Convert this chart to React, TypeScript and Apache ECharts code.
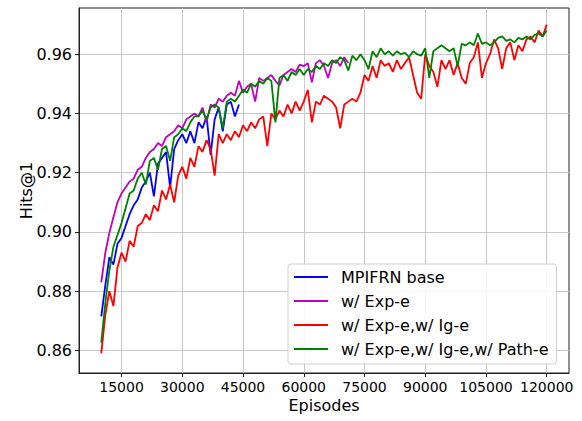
import React, { useEffect, useRef } from 'react';
import * as echarts from 'echarts';

const episodes = [
  10000, 11000, 12000, 13000, 14000, 15000, 16000, 17000, 18000, 19000,
  20000, 21000, 22000, 23000, 24000, 25000, 26000, 27000, 28000, 29000,
  30000, 31000, 32000, 33000, 34000, 35000, 36000, 37000, 38000, 39000,
  40000, 41000, 42000, 43000, 44000, 45000, 46000, 47000, 48000, 49000,
  50000, 51000, 52000, 53000, 54000, 55000, 56000, 57000, 58000, 59000,
  60000, 61000, 62000, 63000, 64000, 65000, 66000, 67000, 68000, 69000,
  70000, 71000, 72000, 73000, 74000, 75000, 76000, 77000, 78000, 79000,
  80000, 81000, 82000, 83000, 84000, 85000, 86000, 87000, 88000, 89000,
  90000, 91000, 92000, 93000, 94000, 95000, 96000, 97000, 98000, 99000,
  100000, 101000, 102000, 103000, 104000, 105000, 106000, 107000, 108000, 109000,
  110000, 111000, 112000, 113000, 114000, 115000, 116000, 117000, 118000, 119000,
  120000,
];

// MPIFRN base (10000 .. 44000)
const baseHits = [
  0.8715, 0.882, 0.8915, 0.889, 0.896, 0.898, 0.902, 0.906, 0.909, 0.911,
  0.915, 0.917, 0.92, 0.912, 0.923, 0.925, 0.927, 0.915, 0.928, 0.931,
  0.933, 0.93, 0.934, 0.93, 0.937, 0.935, 0.939, 0.926, 0.938, 0.942,
  0.934, 0.943, 0.944, 0.939, 0.943,
];

// w/ Exp-e (10000 .. 71000)
const expHits = [
  0.883, 0.893, 0.8997, 0.905, 0.91, 0.913, 0.915, 0.917, 0.918, 0.921,
  0.922, 0.925, 0.927, 0.928, 0.93, 0.929, 0.932, 0.933, 0.934, 0.936,
  0.935, 0.938, 0.939, 0.94, 0.939, 0.942, 0.937, 0.943, 0.942, 0.945,
  0.944, 0.946, 0.947, 0.946, 0.951, 0.947, 0.949, 0.95, 0.944, 0.952,
  0.951, 0.952, 0.953, 0.951, 0.9495, 0.953, 0.954, 0.955, 0.954, 0.9565,
  0.956, 0.957, 0.9505, 0.957, 0.958, 0.956, 0.952, 0.957, 0.958, 0.956,
  0.959, 0.957,
];

// w/ Exp-e,w/ Ig-e (10000 .. 120000)
const igHits = [
  0.859, 0.872, 0.88, 0.875, 0.888, 0.893, 0.89, 0.897, 0.895, 0.902,
  0.903, 0.906, 0.904, 0.909, 0.907, 0.914, 0.911, 0.916, 0.91, 0.919,
  0.922, 0.918, 0.925, 0.922, 0.929, 0.927, 0.931, 0.928, 0.919, 0.933,
  0.93, 0.933, 0.931, 0.934, 0.932, 0.936, 0.934, 0.937, 0.935, 0.938,
  0.939, 0.929, 0.94, 0.938, 0.941, 0.939, 0.943, 0.94, 0.944, 0.941,
  0.944, 0.948, 0.937, 0.944, 0.943, 0.946, 0.945, 0.944, 0.942, 0.935,
  0.943, 0.944, 0.945, 0.944, 0.947, 0.953, 0.951, 0.956, 0.952, 0.958,
  0.956, 0.957, 0.954, 0.958, 0.955, 0.957, 0.959, 0.953, 0.947, 0.945,
  0.96, 0.956, 0.954, 0.949, 0.958, 0.955, 0.958, 0.953, 0.957, 0.952,
  0.95, 0.957, 0.959, 0.964, 0.952, 0.957, 0.96, 0.965, 0.962, 0.955,
  0.962, 0.964, 0.958, 0.963, 0.961, 0.965, 0.966, 0.964, 0.968, 0.966,
  0.97,
];

// w/ Exp-e,w/ Ig-e,w/ Path-e (10000 .. 120000)
const pathHits = [
  0.8627, 0.876, 0.887, 0.895, 0.899, 0.903, 0.908, 0.913, 0.914, 0.918,
  0.92, 0.916, 0.924, 0.925, 0.921, 0.928, 0.929, 0.924, 0.932, 0.933,
  0.935, 0.934, 0.937, 0.939, 0.939, 0.941, 0.938, 0.942, 0.943, 0.942,
  0.935, 0.944, 0.945, 0.944, 0.946, 0.948, 0.947, 0.95, 0.949, 0.951,
  0.95, 0.952, 0.951, 0.937, 0.952, 0.953, 0.951, 0.954, 0.953, 0.955,
  0.953, 0.955, 0.954, 0.956, 0.955, 0.957, 0.956, 0.958, 0.957, 0.959,
  0.958, 0.9545, 0.9595, 0.958, 0.96, 0.958, 0.955, 0.961, 0.959, 0.962,
  0.96, 0.961, 0.9595, 0.961, 0.96, 0.9605, 0.959, 0.961, 0.96, 0.9595,
  0.962, 0.952, 0.961, 0.962, 0.963, 0.962, 0.961, 0.962, 0.956, 0.9635,
  0.963, 0.964, 0.963, 0.967, 0.9635, 0.964, 0.963, 0.964, 0.9655, 0.966,
  0.9645, 0.965, 0.964, 0.9655, 0.965, 0.966, 0.965, 0.9665, 0.967, 0.966,
  0.968,
];

const seriesNames = [
  'MPIFRN base',
  'w/ Exp-e',
  'w/ Exp-e,w/ Ig-e',
  'w/ Exp-e,w/ Ig-e,w/ Path-e',
];
const seriesColors = ['#0000ff', '#bf00bf', '#ff0000', '#008000'];
const seriesValues = [baseHits, expHits, igHits, pathHits];

const xTicks = [15000, 30000, 45000, 60000, 75000, 90000, 105000, 120000];
const yTicks = [0.86, 0.88, 0.9, 0.92, 0.94, 0.96];

const FONT = 'DejaVu Sans';

export default function App() {
  const ref = useRef<HTMLDivElement>(null);

  useEffect(() => {
    if (!ref.current) return;
    const chart = echarts.init(ref.current, undefined, { renderer: 'svg' });

    const series = seriesValues.map((vals, si) => ({
      name: seriesNames[si],
      type: 'line',
      data: vals.map((v, i) => [episodes[i], v]),
      showSymbol: false,
      symbol: 'none',
      lineStyle: { color: seriesColors[si], width: 1.8 },
      itemStyle: { color: seriesColors[si] },
      z: 2 + si,
    }));

    chart.setOption({
      animation: false,
      backgroundColor: '#ffffff',
      grid: {
        left: 79,
        top: 8,
        right: 13,
        bottom: 48,
        show: true,
        borderColor: '#222',
        borderWidth: 1,
        backgroundColor: 'transparent',
      },
      legend: {
        data: seriesNames,
        orient: 'vertical',
        left: 288,
        top: 264,
        padding: [5, 8, 7, 6],
        itemWidth: 34,
        itemHeight: 2,
        itemGap: 8,
        icon: 'rect',
        backgroundColor: 'rgba(255,255,255,0.85)',
        borderColor: '#d0d0d0',
        borderWidth: 1,
        borderRadius: 3,
        textStyle: {
          fontFamily: FONT,
          fontSize: 16,
          color: '#000',
          lineHeight: 16,
          padding: [0, 0, 0, 8],
        },
      },
      xAxis: {
        type: 'value',
        min: 4500,
        max: 125500,
        name: 'Episodes',
        nameLocation: 'middle',
        nameGap: 24,
        nameMoveOverlap: false,
        nameTextStyle: { fontFamily: FONT, fontSize: 16, color: '#000' },
        axisLine: { show: true, lineStyle: { color: '#222', width: 1 } },
        axisTick: {
          show: true,
          inside: false,
          length: 4,
          customValues: xTicks,
          lineStyle: { color: '#222' },
        },
        axisLabel: {
          customValues: xTicks,
          fontFamily: FONT,
          fontSize: 14,
          color: '#000',
          margin: 7,
          formatter: (v: number) => String(v),
        },
        splitLine: { show: true, lineStyle: { color: '#c8c8c8', width: 1 } },
      },
      yAxis: {
        type: 'value',
        min: 0.8524,
        max: 0.9756,
        name: 'Hits@1',
        nameLocation: 'middle',
        nameGap: 45,
        nameMoveOverlap: false,
        nameTextStyle: { fontFamily: FONT, fontSize: 16, color: '#000' },
        axisLine: { show: true, lineStyle: { color: '#222', width: 1 } },
        axisTick: {
          show: true,
          inside: false,
          length: 4,
          customValues: yTicks,
          lineStyle: { color: '#222' },
        },
        axisLabel: {
          customValues: yTicks,
          fontFamily: FONT,
          fontSize: 16,
          color: '#000',
          margin: 7,
          formatter: (v: number) => v.toFixed(2),
        },
        splitLine: { show: true, lineStyle: { color: '#c8c8c8', width: 1 } },
      },
      series,
    });

    return () => chart.dispose();
  }, []);

  return (
    <div
      ref={ref}
      style={{ position: 'fixed', left: 0, top: 0, width: 582, height: 421 }}
    />
  );
}
